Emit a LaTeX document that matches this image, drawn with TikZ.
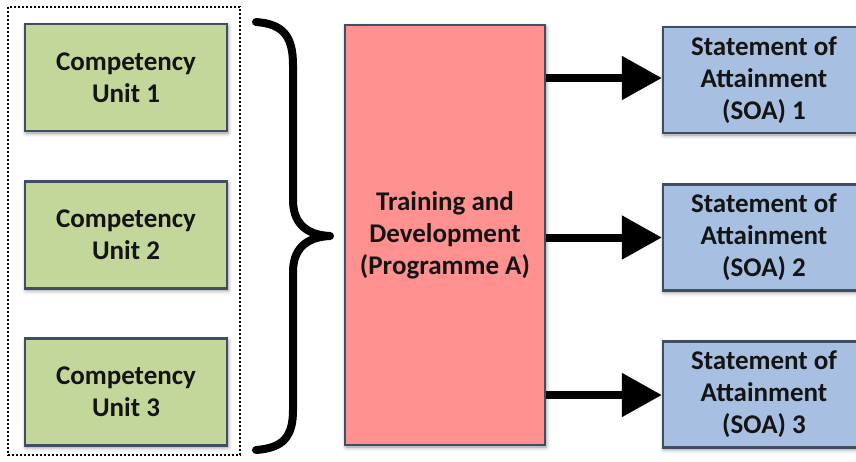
\documentclass[tikz,border=0pt]{standalone}
\usepackage{fontspec}
\setmainfont{Carlito}
\usetikzlibrary{arrows.meta,shadows.blur}

\definecolor{unitgreen}{HTML}{C4D79B}
\definecolor{progred}{HTML}{FF9191}
\definecolor{soablue}{HTML}{A7C0E2}
\definecolor{edgeslate}{HTML}{3F4E63}

\tikzset{
  card/.style={draw=edgeslate, line width=2.2pt, align=center,
    font=\fontsize{27}{32}\selectfont\bfseries, text=black!92,
    blur shadow={shadow xshift=1pt, shadow yshift=-2pt,
      shadow blur radius=4pt, shadow opacity=45}},
  unitbox/.style={card, fill=unitgreen, minimum width=202pt, minimum height=107pt},
  progbox/.style={card, fill=progred, minimum width=200pt, minimum height=420pt},
  soabox/.style={card, fill=soablue, minimum width=202pt, minimum height=106pt},
  flow/.style={line width=8pt, -{Triangle[length=40pt, width=42pt]}},
}

\begin{document}
\begin{tikzpicture}[x=1pt, y=-1pt]
  \useasboundingbox (0,0) rectangle (856,461);
  \clip (0,0) rectangle (856,461);

  % grouping frame around the competency units
  \draw[line width=2pt, dash pattern=on 2pt off 2pt] (8,7) rectangle (240,455);

  \node[unitbox] (u1) at (126,77.5) {Competency\\Unit 1};
  \node[unitbox] (u2) at (126,235)  {Competency\\Unit 2};
  \node[unitbox] (u3) at (126,392)  {Competency\\Unit 3};

  % curly brace gathering the units
  \draw[line width=8pt, line cap=round, line join=round]
    (256,22) .. controls (283,24) and (293,36) .. (293,65)
    -- (293,200)
    .. controls (293,222) and (305,235) .. (330,236)
    .. controls (305,237) and (293,250) .. (293,272)
    -- (293,410)
    .. controls (293,437) and (283,448) .. (256,450);

  \node[progbox] (prog) at (445,235) {Training and\\Development\\(Programme A)};

  \node[soabox] (s1) at (764,80)    {Statement of\\Attainment\\(SOA) 1};
  \node[soabox] (s2) at (764,237.5) {Statement of\\Attainment\\(SOA) 2};
  \node[soabox] (s3) at (764,394.5) {Statement of\\Attainment\\(SOA) 3};

  \draw[flow] (prog.east |- 0,78)  -- (s1.west |- 0,78);
  \draw[flow] (prog.east |- s2.west) -- (s2.west);
  \draw[flow] (prog.east |- 0,395) -- (s3.west |- 0,395);
\end{tikzpicture}
\end{document}
